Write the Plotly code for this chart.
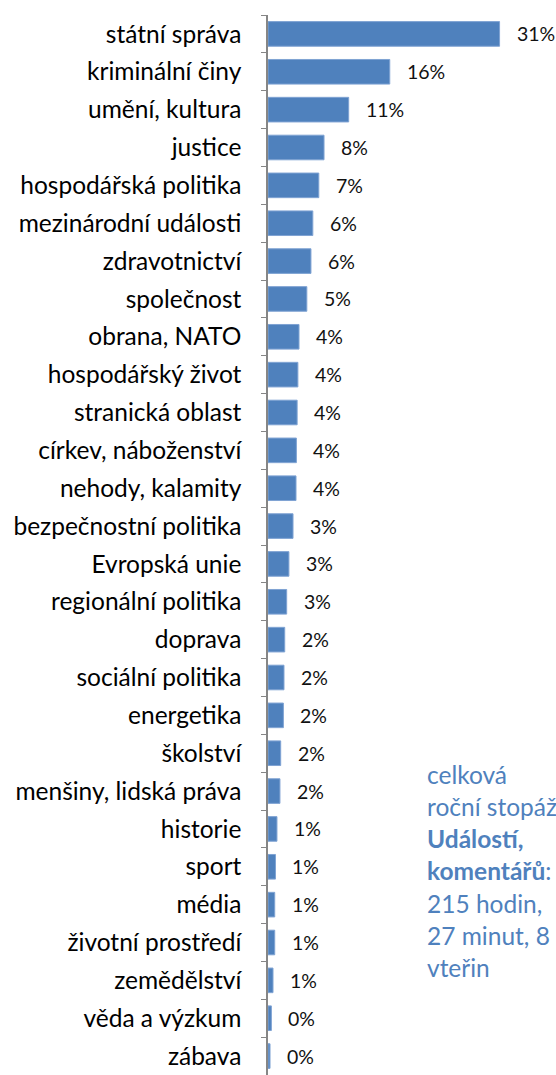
import plotly.graph_objects as go

categories = ["státní správa", "kriminální činy", "umění, kultura", "justice",
              "hospodářská politika", "mezinárodní události", "zdravotnictví",
              "společnost", "obrana, NATO", "hospodářský život", "stranická oblast",
              "církev, náboženství", "nehody, kalamity", "bezpečnostní politika",
              "Evropská unie", "regionální politika", "doprava", "sociální politika",
              "energetika", "školství", "menšiny, lidská práva", "historie", "sport",
              "média", "životní prostředí", "zemědělství", "věda a výzkum", "zábava"]
values = [31.0, 16.3, 10.8, 7.5, 6.8, 6.0, 5.75, 5.2, 4.15, 4.0, 3.9, 3.8, 3.75,
          3.35, 2.8, 2.5, 2.24, 2.14, 2.06, 1.7, 1.6, 1.2, 1.0, 0.9, 0.9, 0.67,
          0.45, 0.27]
labels = ["31%", "16%", "11%", "8%", "7%", "6%", "6%", "5%", "4%", "4%", "4%", "4%",
          "4%", "3%", "3%", "3%", "2%", "2%", "2%", "2%", "2%", "1%", "1%", "1%",
          "1%", "1%", "0%", "0%"]
note_lines = ["celková", "roční stopáž", "<b>Událostí,</b>", "<b>komentářů</b>:",
              "215 hodin,", "27 minut, 8", "vteřin"]

BLUE = "#4F81BD"
FONT = "Lato"
W, H = 556, 1075
ML, MT, MB, MR = 268, 15, 0, 0

fig = go.Figure()
fig.add_trace(go.Bar(
    x=values, y=categories, orientation="h",
    marker=dict(color=BLUE, line=dict(color="#7FA3D3", width=1)),
    hoverinfo="skip",
))

for v, c, t in zip(values, categories, labels):
    fig.add_annotation(x=v, y=c, xref="x", yref="y", text=t, showarrow=False,
                       xanchor="left", yanchor="middle", xshift=15,
                       font=dict(family=FONT, size=19.5, color="#111111"))

plot_h = H - MT - MB
for i, line in enumerate(note_lines):
    py = 774 + i * 32.3
    fig.add_annotation(x=(425 - ML) / (W - ML - MR), y=(H - MB - py) / plot_h,
                       xref="paper", yref="paper", text=line, showarrow=False,
                       xanchor="left", yanchor="middle", align="left",
                       font=dict(family=FONT, size=24.5, color=BLUE))

fig.update_layout(
    width=W, height=H,
    margin=dict(l=ML, r=MR, t=MT, b=MB, pad=0),
    paper_bgcolor="white", plot_bgcolor="white",
    showlegend=False, bargap=0.35,
    font=dict(family=FONT, size=24.5, color="#000000"),
)
fig.update_xaxes(range=[0, (W - ML - MR) / 7.47], visible=False)
fig.update_yaxes(autorange="reversed", showline=True, linecolor="#868686",
                 linewidth=1.5, ticks="outside", ticklen=5, tickcolor="#868686",
                 tickson="boundaries", ticklabelstandoff=20,
                 tickfont=dict(family=FONT, size=24.5, color="#000000"),
                 showgrid=False, zeroline=False)

fig.write_html("out.html",
               config={"displayModeBar": False},
               post_script="document.body.style.margin='0';"
                           "document.body.style.overflow='hidden';")
